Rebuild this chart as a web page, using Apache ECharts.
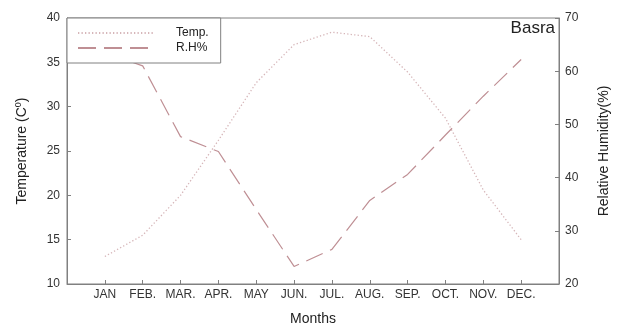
<!DOCTYPE html>
<html>
<head>
<meta charset="utf-8">
<script src="https://cdn.jsdelivr.net/npm/echarts@6/dist/echarts.min.js"></script>
<style>html,body{margin:0;padding:0;background:#fff}#c{width:619px;height:331px}</style>
</head>
<body>
<div id="c"></div>
<script>
var months = ['JAN','FEB.','MAR.','APR.','MAY','JUN.','JUL.','AUG.','SEP.','OCT.','NOV.','DEC.'];
var temp = [13.1, 15.5, 20.0, 26.2, 32.7, 37.0, 38.4, 37.9, 33.9, 28.7, 20.6, 15.0];
var rh = [63.5, 61.0, 47.7, 44.9, 34.0, 23.3, 26.5, 35.7, 40.6, 48.0, 55.3, 62.2];

var chart = echarts.init(document.getElementById('c'), null, {renderer: 'canvas'});
var font = 'Liberation Sans, Arial, sans-serif';
chart.setOption({
  animation: false,
  backgroundColor: '#fff',
  textStyle: {fontFamily: font},
  title: {
    text: 'Basra', right: 64, top: 20, padding: 0,
    textStyle: {fontSize: 17, fontWeight: 'normal', color: '#222', fontFamily: font}
  },
  grid: {left: 67, right: 60, top: 18, bottom: 43, show: true, borderColor: '#808080', borderWidth: 1},
  legend: {
    orient: 'vertical', left: 67, top: 18,
    padding: [8, 12, 8, 10],
    itemWidth: 76, itemHeight: 10, itemGap: 1,
    backgroundColor: '#fff', borderColor: '#808080', borderWidth: 1,
    itemStyle: {opacity: 0},
    textStyle: {fontSize: 12, lineHeight: 14, color: '#222', padding: [0, 0, 0, 17], fontFamily: font},
    data: ['Temp.', 'R.H%']
  },
  xAxis: {
    type: 'value', min: 0, max: 13, interval: 1,
    name: 'Months', nameLocation: 'middle', nameGap: 28,
    nameTextStyle: {fontSize: 14, color: '#222'},
    axisLine: {lineStyle: {color: '#808080'}},
    axisTick: {inside: true, length: 4, lineStyle: {color: '#808080'}},
    splitLine: {show: false},
    axisLabel: {
      fontSize: 12, color: '#333', margin: 5,
      formatter: function (v) { return (v >= 1 && v <= 12) ? months[v - 1] : ''; }
    }
  },
  yAxis: [{
    type: 'value', min: 10, max: 40, interval: 5,
    name: 'Temperature (C{sup|0})', nameLocation: 'middle', nameGap: 37, nameRotate: 90,
    nameTextStyle: {fontSize: 14, color: '#222', rich: {sup: {fontSize: 9, color: '#222', verticalAlign: 'top', padding: [0, 0, 7, 0]}}},
    axisLine: {show: true, lineStyle: {color: '#808080'}},
    axisTick: {inside: true, length: 4, lineStyle: {color: '#808080'}},
    splitLine: {show: false},
    axisLabel: {fontSize: 12, color: '#333', margin: 7}
  }, {
    type: 'value', min: 20, max: 70, interval: 10, position: 'right',
    name: 'Relative Humidity(%)', nameLocation: 'middle', nameGap: 38, nameRotate: 90,
    nameTextStyle: {fontSize: 14, color: '#222'},
    axisLine: {show: true, lineStyle: {color: '#808080'}},
    axisTick: {inside: true, length: 4, lineStyle: {color: '#808080'}},
    splitLine: {show: false},
    axisLabel: {fontSize: 12, color: '#333', margin: 6}
  }],
  series: [{
    name: 'Temp.', type: 'line', yAxisIndex: 0, symbol: 'none',
    data: temp.map(function (v, i) { return [i + 1, v]; }),
    lineStyle: {color: '#d6b6b9', width: 1.3, type: [1.3, 2.2]},
    itemStyle: {color: '#d6b6b9'}
  }, {
    name: 'R.H%', type: 'line', yAxisIndex: 1, symbol: 'none',
    data: rh.map(function (v, i) { return [i + 1, v]; }),
    lineStyle: {color: '#bf8f94', width: 1.2, type: [18, 8]},
    itemStyle: {color: '#bf8f94'}
  }]
});
</script>
</body>
</html>
